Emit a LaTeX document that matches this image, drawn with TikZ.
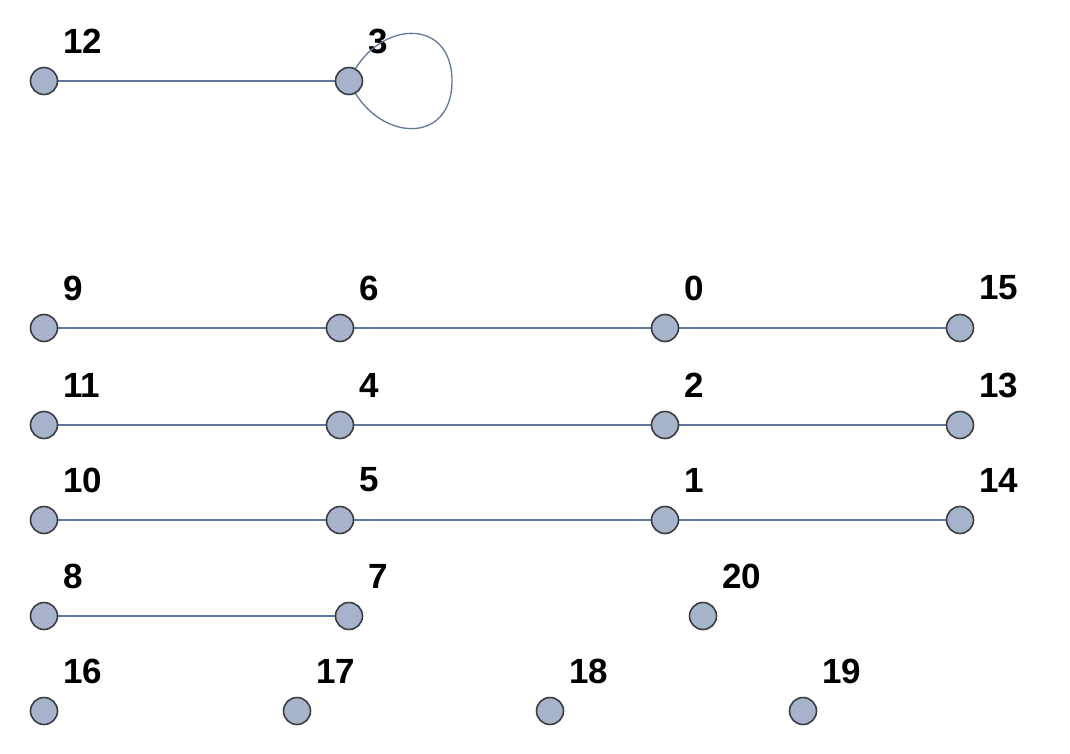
\documentclass[tikz,border=0pt]{standalone}
\usepackage{fontspec}
\setmainfont{Liberation Sans}
\definecolor{vfill}{RGB}{167,179,203}
\definecolor{vdraw}{RGB}{60,60,64}
\definecolor{ecol}{RGB}{98,117,155}
\begin{document}
\begin{tikzpicture}[x=1pt,y=-1pt,
  vert/.style={circle,draw=vdraw,fill=vfill,line width=1.6pt,minimum size=27pt,inner sep=0pt},
  lab/.style={anchor=west,inner sep=0pt,font=\fontsize{35}{40}\selectfont\bfseries},
  edge/.style={draw=ecol,line width=1.3pt}]
\useasboundingbox (0,0) rectangle (1070,754);
\foreach \n/\x/\y in {12/44/81,3/349/81,9/44/328,6/340/328,0/665/328,15/960/328,
  11/44/425,4/340/425,2/665/425,13/960/425,10/44/520,5/340/520,1/665/520,14/960/520,
  8/44/616,7/349/616,20/703/616,16/44/711,17/297/711,18/550/711,19/803/711}{
  \coordinate (p\n) at (\x,\y);
  \node[lab] (l\n) at ([shift={(19,-40)}]p\n) {\n};
}
\coordinate (loopR) at (452,81);
\begin{scope}[every path/.style={edge}]
\path (p12) -- (p3);
\path (p3) .. controls (375,20) and (452,15) .. (loopR)
           .. controls (452,147) and (375,142) .. (p3);
\path (p9) -- (p6); \path (p6) -- (p0); \path (p0) -- (p15);
\path (p11) -- (p4); \path (p4) -- (p2); \path (p2) -- (p13);
\path (p10) -- (p5); \path (p5) -- (p1); \path (p1) -- (p14);
\path (p8) -- (p7);
\end{scope}
\foreach \n in {12,3,9,6,0,15,11,4,2,13,10,5,1,14,8,7,20,16,17,18,19}{
  \node[vert] (v\n) at (p\n) {};
}
\end{tikzpicture}
\end{document}
